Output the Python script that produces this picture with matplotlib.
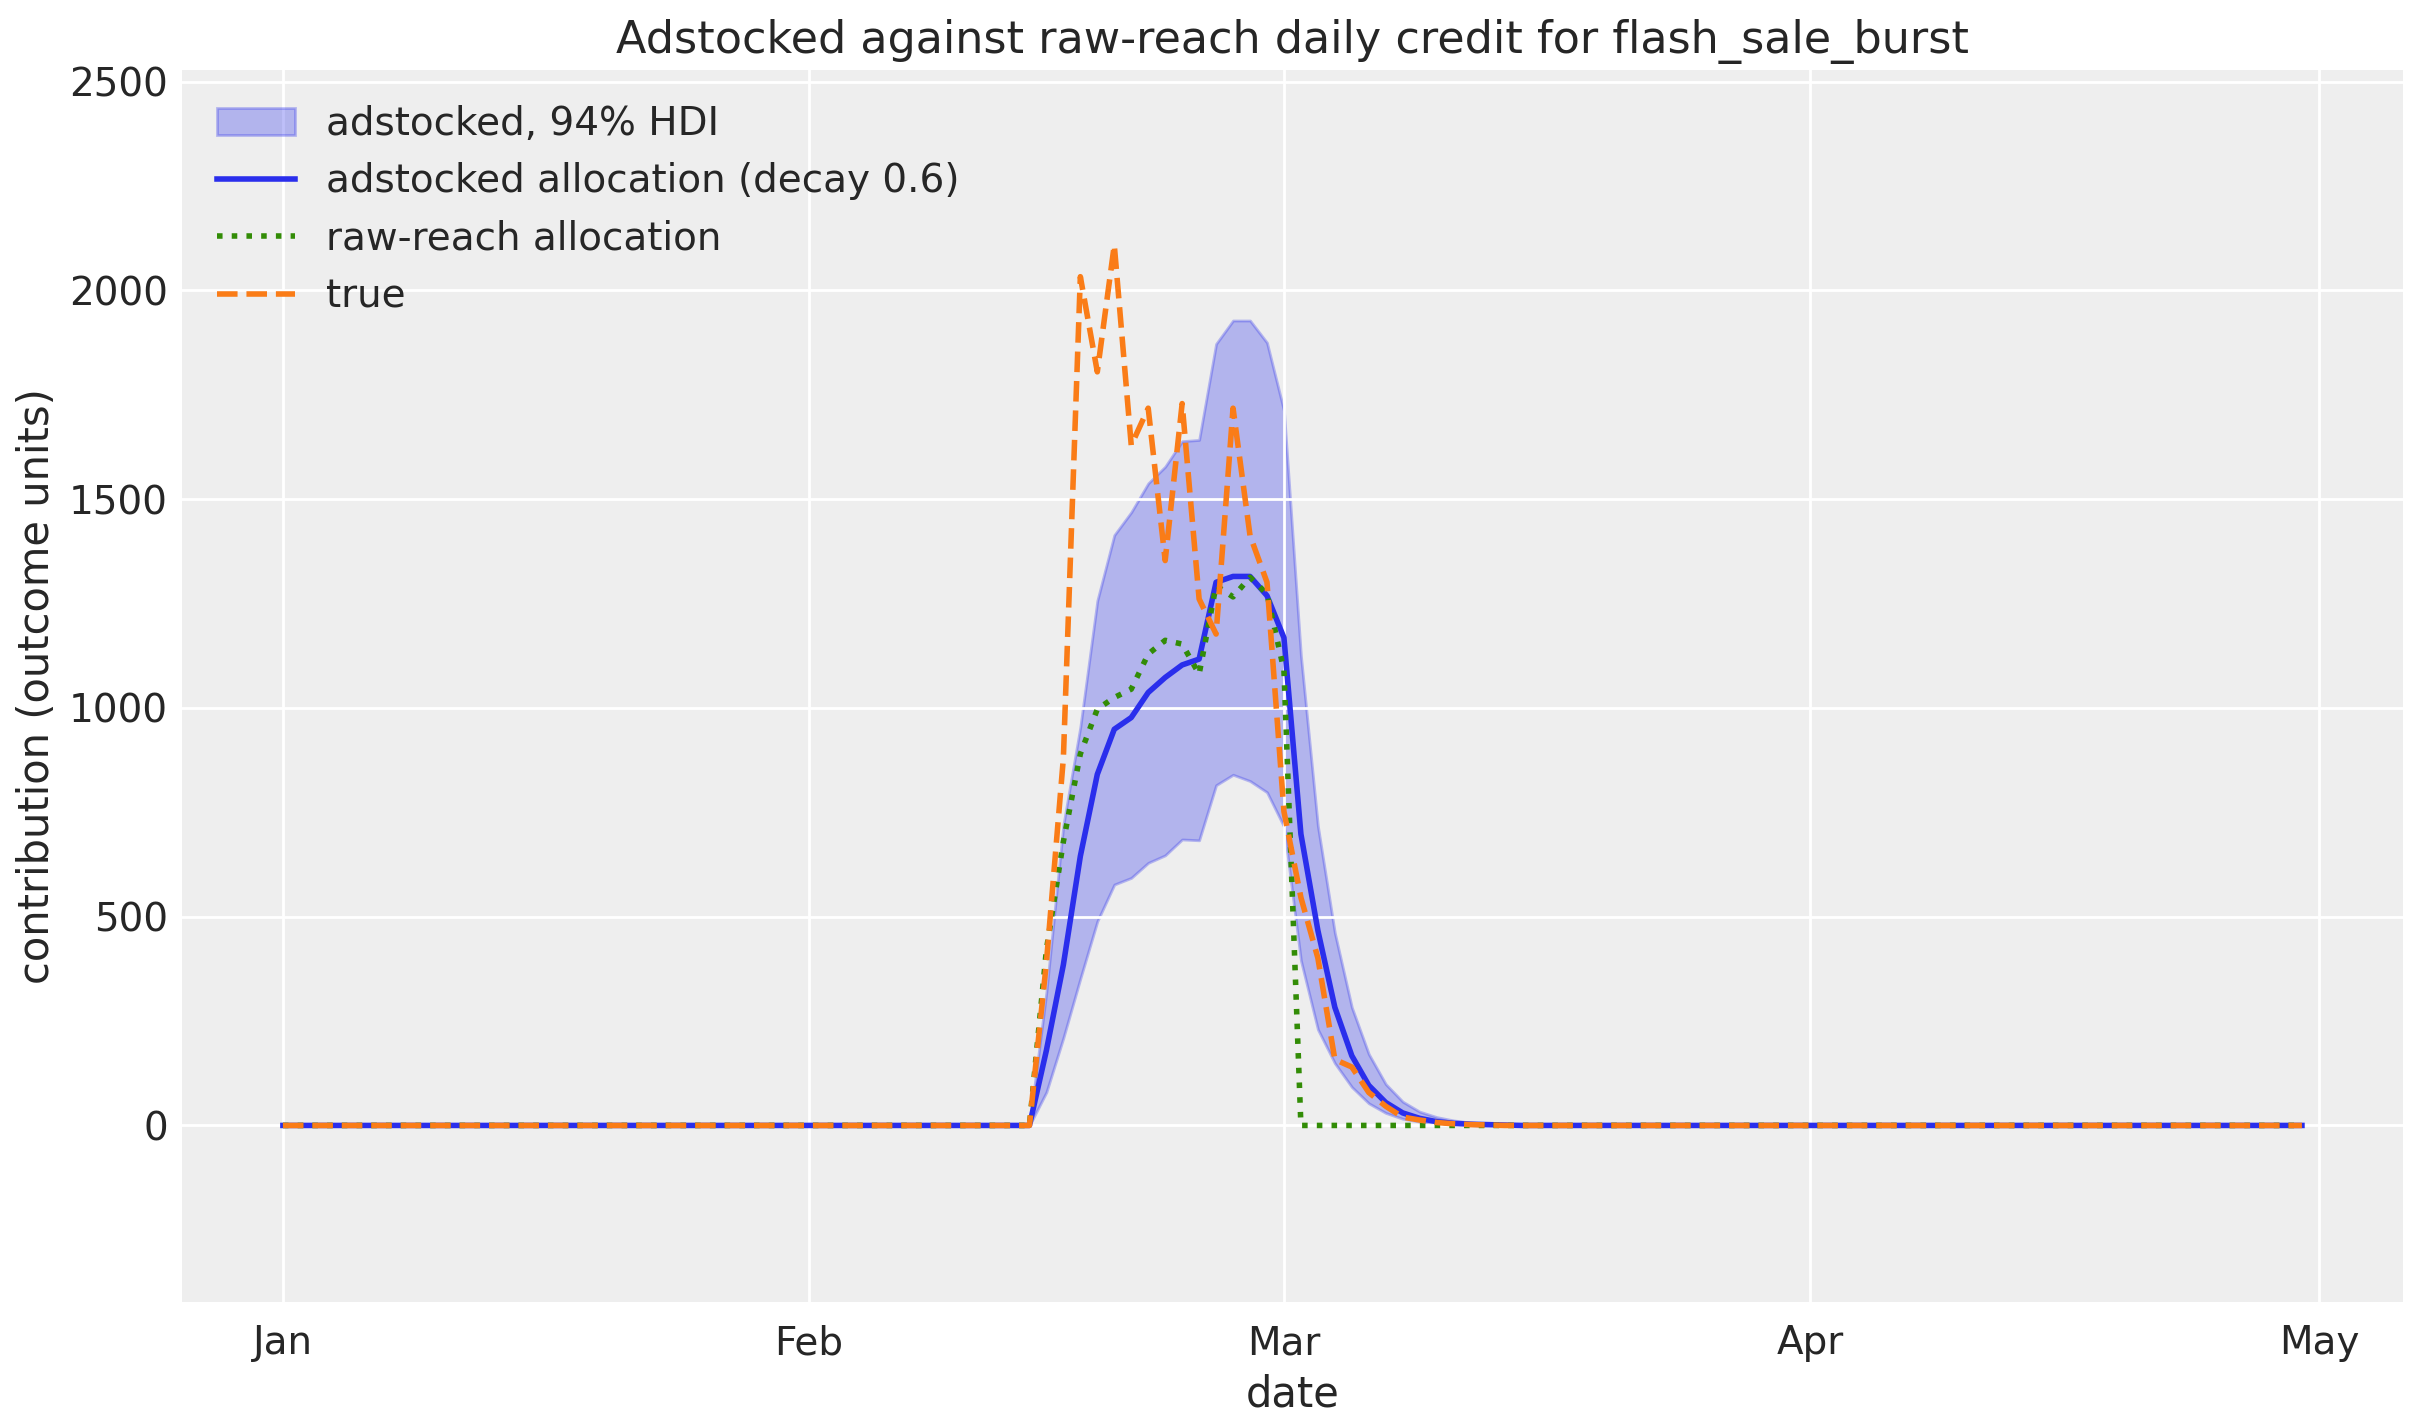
import matplotlib
matplotlib.use('Agg')
import matplotlib.pyplot as plt
import matplotlib.dates as mdates
import numpy as np
import pandas as pd

# arviz-darkgrid look
plt.rcParams.update({
    'font.family': ['DejaVu Sans'],
    'text.color': '.15',
    'axes.facecolor': '#eeeeee',
    'axes.edgecolor': 'white',
    'axes.grid': True,
    'axes.labelcolor': '.15',
    'axes.labelsize': 15,
    'axes.titlesize': 16,
    'axes.linewidth': 0,
    'grid.color': 'white',
    'grid.linewidth': 1.0,
    'xtick.labelsize': 14,
    'ytick.labelsize': 14,
    'xtick.color': '.15',
    'ytick.color': '.15',
    'legend.fontsize': 14,
    'legend.frameon': False,
    'lines.linewidth': 2,
})

dates = pd.date_range('2023-01-01', '2023-04-30', freq='D')

# daily values from Feb 15 to Mar 14, everything else is zero
burst_start = pd.Timestamp('2023-02-15')
mean_burst = [180, 385, 645, 841, 949, 977, 1037, 1073, 1103, 1117, 1301, 1315, 1315, 1269,
              1168, 698, 467, 283, 167, 96, 55, 30, 17, 9, 5, 3, 2, 1]
lower_burst = [80, 210, 352, 489, 577, 593, 629, 647, 685, 683, 815, 840, 825, 798,
               716, 395, 230, 149, 92, 53, 30, 16, 9, 5, 3, 2, 1, 0]
upper_burst = [320, 720, 955, 1257, 1414, 1469, 1538, 1578, 1639, 1642, 1872, 1928, 1928, 1875,
               1712, 1125, 717, 461, 283, 171, 99, 57, 33, 20, 12, 7, 4, 2]
raw_burst = [421, 680, 890, 997, 1025, 1045, 1129, 1162, 1153, 1081, 1293, 1266, 1313, 1273,
             1090, 0, 0, 0, 0, 0, 0, 0, 0, 0, 0, 0, 0, 0]
true_burst = [390, 880, 2033, 1805, 2109, 1629, 1718, 1353, 1729, 1261, 1177, 1718, 1413, 1301,
              752, 546, 401, 158, 140, 79, 46, 20, 13, 7, 4, 2, 1, 0]


def full_series(burst):
    s = pd.Series(0.0, index=dates)
    idx = pd.date_range(burst_start, periods=len(burst), freq='D')
    s.loc[idx] = burst
    return s


mean_s = full_series(mean_burst)
lower_s = full_series(lower_burst)
upper_s = full_series(upper_burst)
raw_s = full_series(raw_burst)
true_s = full_series(true_burst)

fig, ax = plt.subplots(figsize=(12.115, 7.115), dpi=200)
fig.subplots_adjust(left=0.0751, right=0.9917, top=0.9508, bottom=0.085)

ax.fill_between(dates, lower_s, upper_s, color='#2a2eec', alpha=0.3, label='adstocked, 94% HDI')
ax.plot(dates, mean_s, color='#2a2eec', label='adstocked allocation (decay 0.6)')
ax.plot(dates, raw_s, color='#328c06', linestyle=':', label='raw-reach allocation')
ax.plot(dates, true_s, color='#fa7c17', linestyle='--', label='true')

ax.set_ylim(-423, 2528)
ax.xaxis.set_major_locator(mdates.MonthLocator())
ax.xaxis.set_major_formatter(mdates.DateFormatter('%b'))
ax.tick_params(axis='both', length=0)
ax.tick_params(axis='x', pad=8)
ax.tick_params(axis='y', pad=5)
for s in ax.spines.values():
    s.set_visible(False)

ax.set_title('Adstocked against raw-reach daily credit for flash_sale_burst')
ax.set_xlabel('date')
ax.set_ylabel('contribution (outcome units)')
ax.legend(loc='upper left')

plt.savefig('out.png', dpi=200)
